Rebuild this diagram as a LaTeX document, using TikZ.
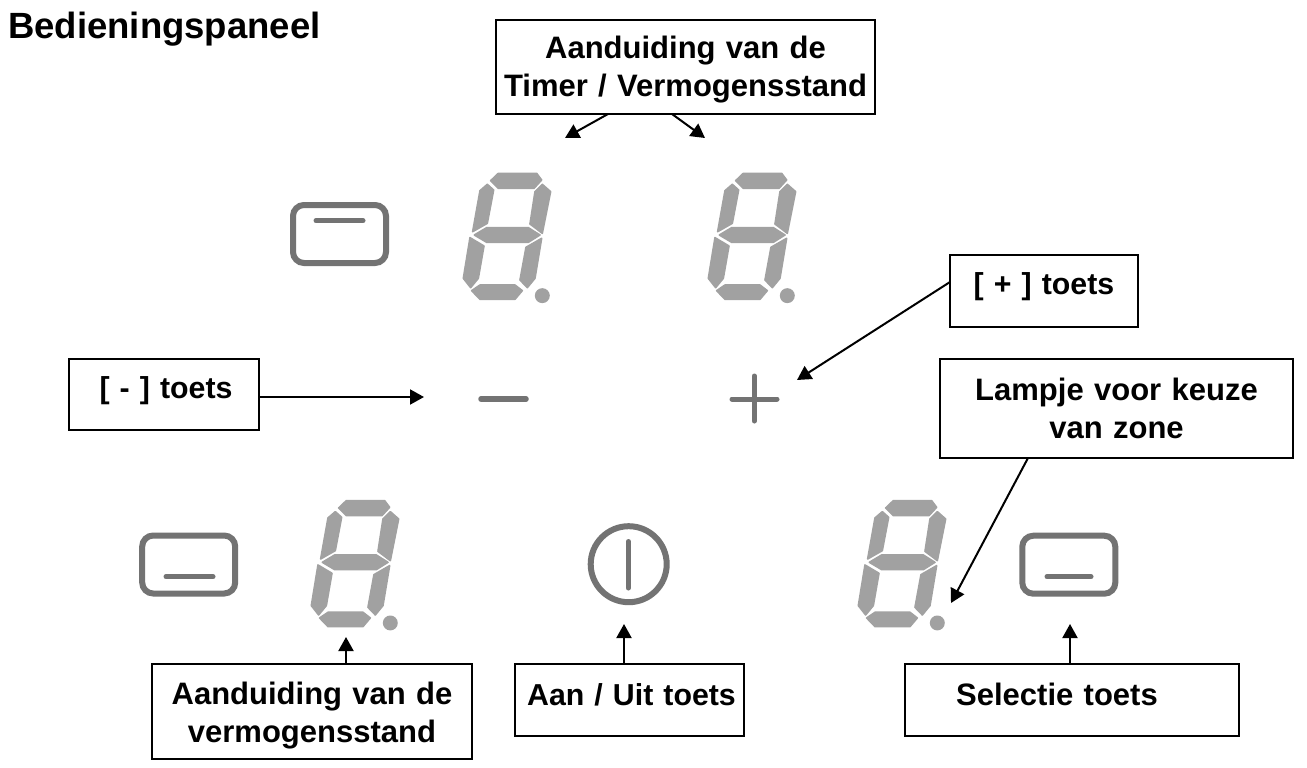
\documentclass[tikz,border=0pt]{standalone}
\usepackage{fontspec}
\setmainfont{Liberation Sans}
\usetikzlibrary{arrows.meta}
\definecolor{segc}{gray}{0.63}
\definecolor{btnc}{gray}{0.45}
\newcommand{\bfn}{\bfseries\fontsize{31}{38}\selectfont}
\newcommand{\bfs}{\bfseries\fontsize{30.3}{38}\selectfont}
\tikzset{
  cbox/.style={draw=black,line width=2.5pt,fill=white,inner sep=0pt,outer sep=0pt,align=center,anchor=north west,font=\bfn},
  sbox/.style={cbox,font=\bfs},
  conn/.style={black,line width=2pt,-{Triangle[length=14pt,width=15pt]}},
  btn/.style={draw=btnc,line width=6pt,rounded corners=11pt,fill=white,inner sep=0pt,outer sep=0pt,minimum width=93pt,minimum height=58pt},
  bar/.style={draw=btnc,line width=5pt,line cap=round},
  digit/.pic={
    \begin{scope}[x=0.3333pt,y=-0.3333pt,fill=segc,draw=segc,line width=1.6pt,line join=round]
      \filldraw (632,62)--(655,40)--(770,40)--(785,60)--(762,85)--(655,85)--cycle;
      \filldraw (600,92)--(622,73)--(641,90)--(622,190)--(578,215)--cycle;
      \filldraw (787,73)--(812,95)--(787,220)--(750,192)--(765,95)--cycle;
      \filldraw (583,225)--(620,203)--(745,203)--(780,225)--(745,247)--(620,247)--cycle;
      \filldraw (570,233)--(612,258)--(595,355)--(572,383)--(550,355)--cycle;
      \filldraw (785,235)--(765,355)--(742,383)--(720,360)--(738,262)--cycle;
      \filldraw (575,392)--(600,375)--(705,375)--(727,392)--(705,418)--(600,418)--cycle;
      \filldraw (787,407) circle[radius=20];
    \end{scope}
  }
}
\begin{document}
\begin{tikzpicture}[x=1pt,y=-1pt]
\useasboundingbox[fill=white] (0,0) rectangle (1307,768);
% title
\node[anchor=base west,inner sep=0pt,font=\bfseries\fontsize{36.5}{42}\selectfont] (title) at (8,39) {Bedieningspaneel};
% digits
\pic (d1) at (280,160) {digit};
\pic (d2) at (525,160) {digit};
\pic (d3) at (128,487.3) {digit};
\pic (d4) at (675,487.3) {digit};
% buttons
\node[btn] (b1) at (339.5,234) {};
\draw[bar] (316,220.7) -- (363,220.7);
\node[btn] (b2) at (188.7,564.5) {};
\draw[bar] (166,576.7) -- (213,576.7);
\node[btn] (b3) at (1068.8,564.7) {};
\draw[bar] (1047,576.7) -- (1091,576.7);
% minus / plus / power
\draw[btnc,line width=5.5pt,line cap=round] (481,399) -- (526,399);
\draw[btnc,line width=5pt,line cap=round] (732,399) -- (777,399) (754.3,376) -- (754.3,421);
\node[draw=btnc,line width=6pt,circle,minimum size=76pt,inner sep=0pt,outer sep=0pt] (pw) at (628.7,564.2) {};
\draw[btnc,line width=5pt,line cap=round] (628.3,541.5) -- (628.3,588);
% boxes
\node[cbox,text width=379pt] (tb) at (496,20) {\rule{0pt}{39pt}Aanduiding van de\\Timer / Vermogensstand\rule[-17pt]{0pt}{0pt}};
\node[sbox,text width=188pt] (pb) at (950,255) {\rule{0pt}{39pt}[ + ] toets\rule[-33pt]{0pt}{0pt}};
\node[sbox,text width=190pt] (mb) at (69,359) {\rule{0pt}{39pt}\hspace*{4pt}[ - ] toets\rule[-32pt]{0pt}{0pt}};
\node[cbox,text width=353pt] (lb) at (940,359) {\rule{0pt}{41pt}Lampje voor keuze\\van zone\rule[-20pt]{0pt}{0pt}};
\node[cbox,text width=320pt] (vb) at (152,664) {\rule{0pt}{40pt}Aanduiding van de\\vermogensstand\rule[-17pt]{0pt}{0pt}};
\node[sbox,text width=229pt] (ab) at (515,664) {\rule{0pt}{41pt}\hspace*{4pt}Aan / Uit toets\rule[-31pt]{0pt}{0pt}};
\node[cbox,text width=334pt] (sb) at (905,664) {\rule{0pt}{41pt}Selectie toets\hspace*{30pt}\rule[-31pt]{0pt}{0pt}};
% free arrow ends
\coordinate (s1) at (608,114);
\coordinate (s2) at (672,114);
\coordinate (e1) at (565,138);
\coordinate (e2) at (705,138);
\coordinate (e3) at (797,380);
\coordinate (e4) at (424,397);
\coordinate (e5) at (951,603);
\coordinate (e6) at (346,637);
\coordinate (e7) at (624,624);
\coordinate (e8) at (1070,624);
% connectors
\draw[conn] (tb.south -| s1) -- (e1);
\draw[conn] (tb.south -| s2) -- (e2);
\draw[conn] ([yshift=9pt]pb.west) -- (e3);
\draw[conn] (mb.east |- e4) -- (e4);
\draw[conn] ([xshift=-88.5pt]lb.south) -- (e5);
\draw[conn] (vb.north -| e6) -- (e6);
\draw[conn] (ab.north -| e7) -- (e7);
\draw[conn] (sb.north -| e8) -- (e8);
\end{tikzpicture}
\end{document}
